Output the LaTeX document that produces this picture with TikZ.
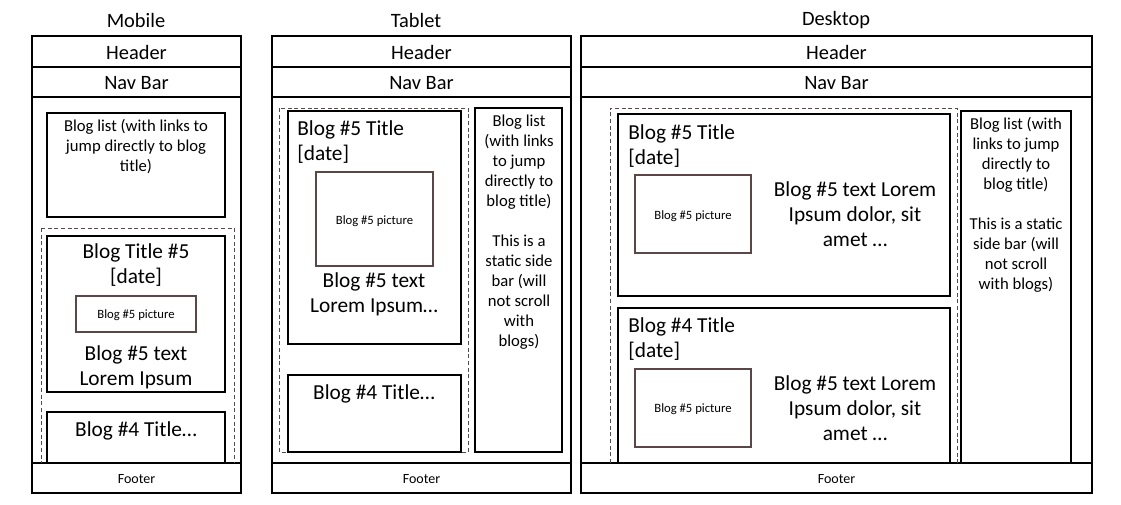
\documentclass[tikz,border=0pt]{standalone}
\usepackage{fontspec}
\setmainfont{Carlito}
\definecolor{picgray}{HTML}{5A4848}

\begin{document}
\begin{tikzpicture}[x=0.75pt,y=-0.75pt,
  frame/.style={line width=0.8pt},
  pic/.style={line width=0.8pt, picgray},
  group/.style={line width=0.7pt, picgray, dash pattern=on 3pt off 2pt},
  head/.style={font=\fontsize{15.3}{18.75}\selectfont, inner sep=0pt},
  big/.style={font=\fontsize{16}{18.75}\selectfont, align=center, inner sep=0pt},
  mid/.style={font=\fontsize{12.5}{15}\selectfont, align=center, inner sep=0pt},
  tiny/.style={font=\fontsize{9.5}{11}\selectfont, inner sep=0pt},
  foot/.style={font=\fontsize{10.5}{12}\selectfont, inner sep=0pt}]
\useasboundingbox (0,0) rectangle (1121,505);
%\draw [help lines, step=50] (0,0) grid (1121,505);

% mobile
\node [head] (mtitle) at (136,20) {Mobile};
\draw [frame] (32,36) rectangle (241,493);
\draw [frame] (32,67) -- (241,67);
\draw [frame] (32,97) -- (241,97);
\draw [frame] (32,463) -- (241,463);
\node [head] (mhead) at (136.5,52) {Header};
\node [head] (mnav) at (136.5,83) {Nav Bar};
\node [foot] (mfoot) at (136.5,479) {Footer};

\draw [frame] (47,113) rectangle (225,217);
\node [mid] (mlist) at (136,147) {Blog list (with links to\\jump directly to blog\\title)};

\draw [group] (41,228) -- (41,463);
\draw [group] (41,228) -- (234,228) -- (234,463);
\draw [frame] (47,236) rectangle (225,392);
\node [big] (mb5title) at (136,265) {Blog Title \#5\\{[date]}};
\draw [pic] (76,296) rectangle (196,332);
\node [tiny] (mb5pic) at (136,315) {Blog \#5 picture};
\node [big] (mb5text) at (136,367) {Blog \#5 text\\Lorem Ipsum};
\draw [frame] (47,463) -- (47,412) -- (225,412) -- (225,463);
\node [big] (mb4title) at (136,431) {Blog \#4 Title\dots};

% tablet
\node [head] (ttitle) at (416,20) {Tablet};
\draw [frame] (272,36) rectangle (571,493);
\draw [frame] (272,67) -- (571,67);
\draw [frame] (272,97) -- (571,97);
\draw [frame] (272,463) -- (571,463);
\node [head] (thead) at (421.5,52) {Header};
\node [head] (tnav) at (421.5,83) {Nav Bar};
\node [foot] (tfoot) at (421.5,479) {Footer};

\draw [group] (279,108) rectangle (468,452);
\draw [frame] (288,111) rectangle (461,344);
\node [big, align=left, anchor=west] (tb5title) at (297,142) {Blog \#5 Title\\{[date]}};
\draw [pic] (316,172) rectangle (433,266);
\node [tiny] (tb5pic) at (374.5,221) {Blog \#5 picture};
\node [big] (tb5text) at (374,294) {Blog \#5 text\\Lorem Ipsum\dots};
\draw [frame] (288,375) rectangle (461,452);
\node [big] (tb4title) at (374,394) {Blog \#4 Title\dots};

\draw [frame] (475,108) rectangle (562,452);
\node [mid] (tside) at (519,232) {Blog list\\(with links\\to jump\\directly to\\blog title)\\[15pt]This is a\\static side\\bar (will\\not scroll\\with\\blogs)};

% desktop
\node [head] (dtitle) at (836,20) {Desktop};
\draw [frame] (581,36) rectangle (1092,493);
\draw [frame] (581,67) -- (1092,67);
\draw [frame] (581,97) -- (1092,97);
\draw [frame] (581,463) -- (1092,463);
\node [head] (dhead) at (836.5,52) {Header};
\node [head] (dnav) at (836.5,83) {Nav Bar};
\node [foot] (dfoot) at (836.5,479) {Footer};

\draw [group] (610,463) -- (610,108) -- (957,108) -- (957,463);
\draw [frame] (618,114) rectangle (950,296);
\node [big, align=left, anchor=west] (db5title) at (628,146) {Blog \#5 Title\\{[date]}};
\draw [pic] (635,175) rectangle (751,253);
\node [tiny] (db5pic) at (693,216) {Blog \#5 picture};
\node [big] (db5text) at (855,214) {Blog \#5 text Lorem\\Ipsum dolor, sit\\amet \dots};

\draw [frame] (618,463) -- (618,308) -- (950,308) -- (950,463);
\node [big, align=left, anchor=west] (db4title) at (628,339) {Blog \#4 Title\\{[date]}};
\draw [pic] (635,369) rectangle (751,447);
\node [tiny] (db4pic) at (693,409) {Blog \#5 picture};
\node [big] (db4text) at (855,408) {Blog \#5 text Lorem\\Ipsum dolor, sit\\amet \dots};

\draw [frame] (961,463) -- (961,111) -- (1071,111) -- (1071,463);
\node [mid] (dside) at (1016,205) {Blog list (with\\links to jump\\directly to\\blog title)\\[15pt]This is a static\\side bar (will\\not scroll\\with blogs)};

\end{tikzpicture}
\end{document}
